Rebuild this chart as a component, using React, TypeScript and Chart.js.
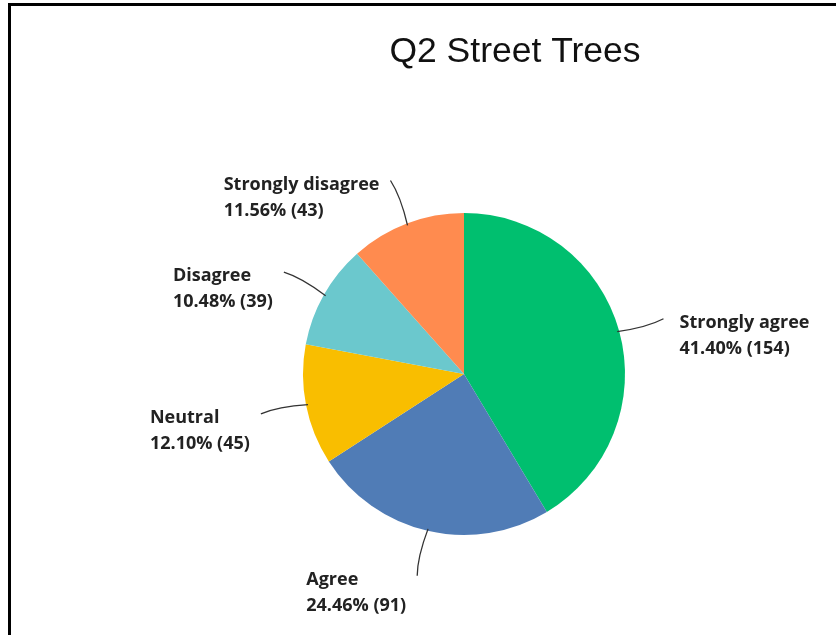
import React, { useEffect, useRef } from "react";
import { Chart, registerables } from "chart.js";

Chart.register(...registerables);

const TITLE = "Q2 Street Trees";
const categories = ["Strongly agree", "Agree", "Neutral", "Disagree", "Strongly disagree"];
const counts = [154, 91, 45, 39, 43];
const percents = ["41.40%", "24.46%", "12.10%", "10.48%", "11.56%"];
const colors = ["#00BF6F", "#507CB6", "#F9BE00", "#6BC8CD", "#FF8B4F"];

const LABEL_FONT = "bold 18px 'Open Sans'";

const titlePlugin = {
  id: "customTitle",
  afterDraw(chart: any) {
    const ctx = chart.ctx;
    ctx.save();
    ctx.font = "35.5px 'Liberation Sans', Arial, sans-serif";
    ctx.fillStyle = "#111";
    ctx.textAlign = "center";
    ctx.textBaseline = "alphabetic";
    ctx.fillText(TITLE, 515, 62);
    ctx.restore();
  },
};

const leaderPlugin = {
  id: "leaders",
  afterDatasetsDraw(chart: any) {
    const ctx = chart.ctx;
    const meta = chart.getDatasetMeta(0);
    ctx.save();
    meta.data.forEach((arc: any, i: number) => {
      const { x, y, startAngle, endAngle, outerRadius } = arc.getProps(
        ["x", "y", "startAngle", "endAngle", "outerRadius"],
        true
      );
      const mid = (startAngle + endAngle) / 2;
      const cos = Math.cos(mid);
      const sin = Math.sin(mid);
      const sx = x + cos * (outerRadius - 2);
      const sy = y + sin * (outerRadius - 2);
      const L = 46;
      const ex = x + cos * (outerRadius + L);
      const ey = y + sin * (outerRadius + L);
      const mx = x + cos * (outerRadius + L * 0.6) - sin * 4;
      const my = y + sin * (outerRadius + L * 0.6) + cos * 4;
      ctx.beginPath();
      ctx.moveTo(sx, sy);
      ctx.quadraticCurveTo(mx, my, ex, ey);
      ctx.strokeStyle = "#333";
      ctx.lineWidth = 1.3;
      ctx.stroke();

      const line1 = categories[i];
      const line2 = `${percents[i]} (${counts[i]})`;
      ctx.font = LABEL_FONT;
      ctx.fillStyle = "#222";
      ctx.textBaseline = "middle";
      ctx.textAlign = "left";
      const w = Math.max(ctx.measureText(line1).width, ctx.measureText(line2).width);
      const left = cos >= 0 ? ex + 16 : ex - 11 - w;
      const ty = ey + 4;
      ctx.fillText(line1, left, ty);
      ctx.fillText(line2, left, ty + 26);
    });
    ctx.restore();
  },
};

export default function App() {
  const ref = useRef<HTMLCanvasElement | null>(null);

  useEffect(() => {
    if (!ref.current) return;
    const chart = new Chart(ref.current, {
      type: "pie",
      data: {
        labels: categories,
        datasets: [
          {
            data: counts,
            backgroundColor: colors,
            borderWidth: 0,
          },
        ],
      },
      options: {
        animation: false,
        responsive: false,
        maintainAspectRatio: false,
        layout: { padding: { top: 213, bottom: 100, left: 303, right: 211 } },
        plugins: {
          legend: { display: false },
          title: { display: false },
          tooltip: { enabled: false },
        },
      },
      plugins: [leaderPlugin, titlePlugin],
    });
    return () => chart.destroy();
  }, []);

  return (
    <div
      style={{
        position: "fixed",
        left: 0,
        top: 0,
        width: 836,
        height: 635,
        overflow: "hidden",
        background: "#fff",
      }}
    >
      <div
        style={{
          position: "absolute",
          left: 8,
          top: 3,
          width: 900,
          height: 629,
          borderTop: "3px solid #000",
          borderLeft: "3px solid #000",
          borderBottom: "3px solid #000",
        }}
      />
      <canvas
        ref={ref}
        width={836}
        height={635}
        style={{ position: "absolute", left: 0, top: 0, width: 836, height: 635 }}
      />
    </div>
  );
}
